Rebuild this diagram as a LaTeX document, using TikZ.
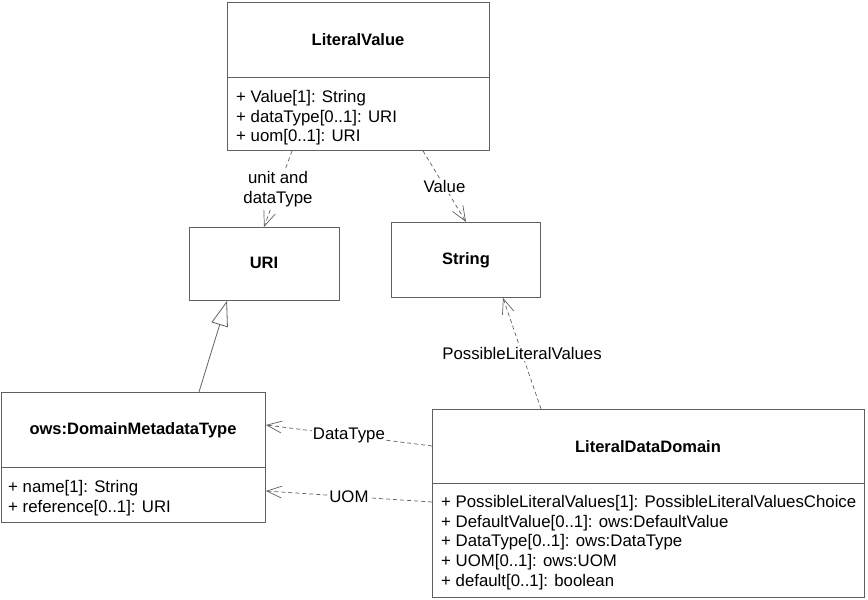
\documentclass[tikz,border=0pt]{standalone}
\usepackage{fontspec}
\setmainfont{Liberation Sans}
\usetikzlibrary{arrows.meta,calc}
\definecolor{linec}{HTML}{606060}
\tikzset{
  classbox/.style={draw=linec, line width=0.9pt, fill=white, anchor=north west, inner sep=0pt},
  titletext/.style={font=\fontsize{16.5}{19.5}\selectfont\bfseries, inner sep=0pt},
  attrtext/.style={font=\fontsize{16.8}{19.7}\selectfont, align=left, anchor=north west, inner sep=0pt},
  dep/.style={draw=linec, line width=0.7pt, dash pattern=on 4pt off 3pt, -{Straight Barb[length=15pt,width=12pt,line width=0.7pt]}},
  gen/.style={draw=linec, line width=0.8pt, -{Triangle[open,length=25pt,width=17pt,fill=white,line width=0.8pt]}},
  lbl/.style={font=\fontsize{16.8}{19.7}\selectfont, fill=white, inner sep=1pt, align=center}
}
\begin{document}
\begin{tikzpicture}[x=1pt,y=-1pt]
\useasboundingbox (0,0) rectangle (868,600);
% LiteralValue
\node[classbox, minimum width=262pt, minimum height=148pt] (lv) at (227,2) {};
\draw[draw=linec, line width=0.9pt] (227,77) -- (489,77);
\node[titletext] (lvt) at (358,40) {LiteralValue};
\node[attrtext] (lva) at (236,90) {+ Value[1]: String\\+ dataType[0..1]: URI\\+ uom[0..1]: URI};
% URI
\node[classbox, minimum width=150pt, minimum height=73pt] (uri) at (189,227) {};
\node[titletext] (urit) at (264,263) {URI};
% String
\node[classbox, minimum width=149pt, minimum height=75pt] (str) at (391,222) {};
\node[titletext] (strt) at (466,260) {String};
% ows:DomainMetadataType
\node[classbox, minimum width=264pt, minimum height=130pt] (dmt) at (1,392) {};
\draw[draw=linec, line width=0.9pt] (1,467) -- (265,467);
\node[titletext] (dmtt) at (133,430) {ows:DomainMetadataType};
\node[attrtext] (dmta) at (8,480) {+ name[1]: String\\+ reference[0..1]: URI};
% LiteralDataDomain
\node[classbox, minimum width=432pt, minimum height=188pt] (ldd) at (432,409) {};
\draw[draw=linec, line width=0.9pt] (432,483) -- (864,483);
\node[titletext] (lddt) at (648,447) {LiteralDataDomain};
\node[attrtext] (ldda) at (441,495) {+ PossibleLiteralValues[1]: PossibleLiteralValuesChoice\\+ DefaultValue[0..1]: ows:DefaultValue\\+ DataType[0..1]: ows:DataType\\+ UOM[0..1]: ows:UOM\\+ default[0..1]: boolean};
% connectors
\draw[dep] ($(lv.south west)+(65,0)$) -- node[lbl, pos=0.5] {unit and\\dataType} ($(uri.north west)+(75,0)$);
\draw[dep] ($(lv.south west)+(196,0)$) -- node[lbl, pos=0.5] {Value} ($(str.north west)+(75,0)$);
\draw[dep] ($(ldd.north west)+(109,0)$) -- node[lbl, pos=0.5] {PossibleLiteralValues} ($(str.south west)+(112,0)$);
\draw[gen] ($(dmt.north west)+(198,0)$) -- ($(uri.south west)+(38,0)$);
\draw[dep] ($(ldd.north west)+(0,37)$) -- node[lbl, pos=0.5] {DataType} ($(dmt.north east)+(0,33)$);
\draw[dep] ($(ldd.north west)+(0,93)$) -- node[lbl, pos=0.5] {UOM} ($(dmt.north east)+(0,99)$);
\end{tikzpicture}
\end{document}
